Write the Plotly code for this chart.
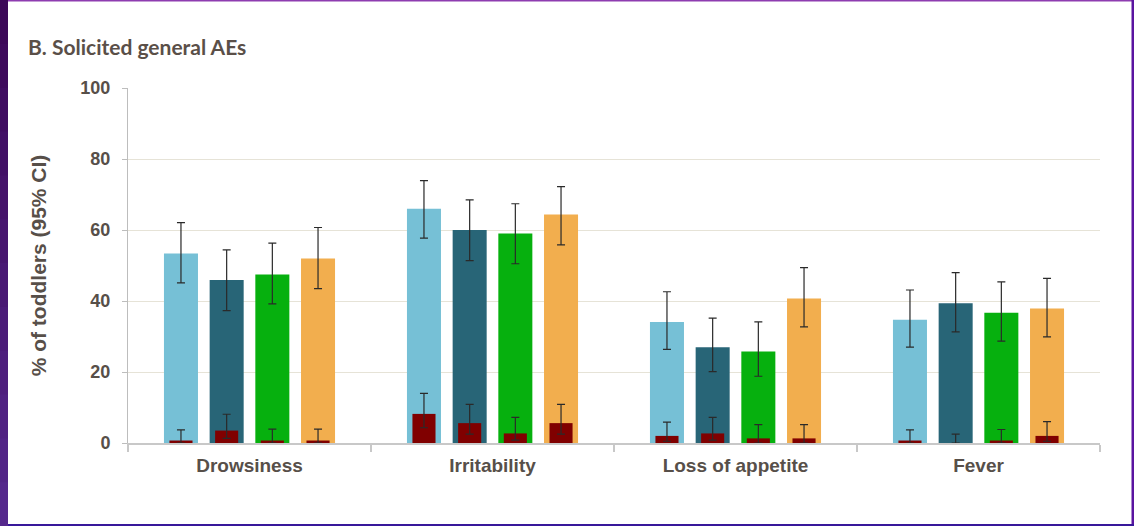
import plotly.graph_objects as go

categories = ["Drowsiness", "Irritability", "Loss of appetite", "Fever"]
series_names = ["Group 1", "Group 2", "Group 3", "Group 4"]

# Any grade (%), lower and upper 95% CI
any_vals = [
    [53.4, 66.0, 34.1, 34.7],
    [45.9, 60.0, 27.0, 39.4],
    [47.5, 59.0, 25.8, 36.7],
    [52.0, 64.4, 40.7, 37.9],
]
any_lo = [
    [45.1, 57.7, 26.4, 27.0],
    [37.3, 51.4, 20.1, 31.3],
    [39.2, 50.5, 18.8, 28.7],
    [43.5, 55.8, 32.7, 29.9],
]
any_hi = [
    [62.1, 73.9, 42.6, 43.1],
    [54.4, 68.5, 35.2, 48.0],
    [56.3, 67.4, 34.1, 45.4],
    [60.7, 72.2, 49.4, 46.4],
]

# Grade 3 (%), lower and upper 95% CI
g3_vals = [
    [0.7, 8.2, 2.0, 0.7],
    [3.5, 5.6, 2.7, 0.0],
    [0.7, 2.7, 1.3, 0.7],
    [0.7, 5.6, 1.3, 2.0],
]
g3_lo = [
    [0.0, 4.3, 0.5, 0.0],
    [1.3, 2.5, 0.8, 0.0],
    [0.0, 0.8, 0.0, 0.0],
    [0.0, 2.5, 0.0, 0.5],
]
g3_hi = [
    [3.7, 14.0, 5.9, 3.7],
    [8.1, 10.9, 7.2, 2.5],
    [3.9, 7.2, 5.2, 3.8],
    [3.9, 10.9, 5.2, 6.0],
]

colors = ["#76C0D6", "#286577", "#06B00E", "#F2AE4E"]
g3_color = "#800000"

W, H = 1134, 526
ML, MR, MT, MB = 128, 34, 88, 83
PW, PH = W - ML - MR, H - MT - MB

centers = [-0.282, -0.094, 0.094, 0.282]
main_w = 0.14
g3_w = 0.095

fig = go.Figure()
err_style = dict(type="data", symmetric=False, color="#2a2a2a", thickness=1.2, width=4)
for i in range(4):
    fig.add_trace(go.Bar(
        x=categories, y=any_vals[i], name=series_names[i],
        marker=dict(color=colors[i], line=dict(width=0)),
        width=main_w, offset=centers[i] - main_w / 2,
        error_y=dict(array=[h - v for h, v in zip(any_hi[i], any_vals[i])],
                     arrayminus=[v - l for v, l in zip(any_vals[i], any_lo[i])],
                     **err_style),
        showlegend=False,
    ))
for i in range(4):
    fig.add_trace(go.Bar(
        x=categories, y=g3_vals[i], name=series_names[i] + " grade 3",
        marker=dict(color=g3_color, line=dict(width=0)),
        width=g3_w, offset=centers[i] - g3_w / 2,
        error_y=dict(array=[h - v for h, v in zip(g3_hi[i], g3_vals[i])],
                     arrayminus=[v - l for v, l in zip(g3_vals[i], g3_lo[i])],
                     **err_style),
        showlegend=False,
    ))


def px_x(p):
    return (p - ML) / PW


def px_y(p):
    return (H - MB - p) / PH


shapes = []
# left purple strip as gradient bands (overlapping to avoid seams)
n = 12
for k in range(n):
    t = k / (n - 1)
    r = int(0x3c + (0x55 - 0x3c) * t)
    g = int(0x08 + (0x28 - 0x08) * t)
    b = int(0x58 + (0x8c - 0x58) * t)
    shapes.append(dict(type="rect", xref="paper", yref="paper",
                       x0=px_x(0), x1=px_x(8),
                       y0=px_y(H * (k + 1) / n + 2), y1=px_y(H * k / n),
                       fillcolor=f"rgb({r},{g},{b})", line=dict(width=0), layer="above"))
# top line
shapes.append(dict(type="rect", xref="paper", yref="paper",
                   x0=px_x(8), x1=px_x(W), y0=px_y(1.5), y1=px_y(0),
                   fillcolor="#8e3cb0", line=dict(width=0), layer="above"))
# right line
shapes.append(dict(type="rect", xref="paper", yref="paper",
                   x0=px_x(W - 2.5), x1=px_x(W), y0=px_y(H), y1=px_y(0),
                   fillcolor="#5a14a0", line=dict(width=0), layer="above"))
# bottom line
shapes.append(dict(type="rect", xref="paper", yref="paper",
                   x0=px_x(8), x1=px_x(W), y0=px_y(H), y1=px_y(H - 2),
                   fillcolor="#38189a", line=dict(width=0), layer="above"))

text_col = "#574f49"
fig.update_layout(
    width=W, height=H,
    margin=dict(l=ML, r=MR, t=MT, b=MB),
    paper_bgcolor="white", plot_bgcolor="white",
    barmode="overlay",
    shapes=shapes,
    annotations=[dict(text="<b>B. Solicited general AEs</b>", xref="paper", yref="paper",
                      x=px_x(26), y=px_y(47), xanchor="left", yanchor="middle",
                      showarrow=False, font=dict(family="Lato", size=21, color="#5a4f48"))],
    xaxis=dict(
        tickfont=dict(family="Liberation Sans", size=19, color=text_col),
        tickprefix="<b>", ticksuffix="</b>",
        showline=True, linecolor="#c8c8c8", linewidth=2,
        ticks="outside", tickson="boundaries", ticklen=7, tickcolor="#c8c8c8", tickwidth=2,
        ticklabelstandoff=4,
        showgrid=False, range=[-0.5, 3.5],
    ),
    yaxis=dict(
        range=[0, 100], dtick=20,
        tickfont=dict(family="Liberation Sans", size=18, color=text_col),
        tickprefix="<b>", ticksuffix="</b>",
        showline=True, linecolor="#bdbdbd", linewidth=1,
        ticks="outside", ticklen=5, tickcolor="#bdbdbd",
        ticklabelstandoff=8,
        showgrid=True, gridcolor="#e6e3d7", gridwidth=1, zeroline=False,
        title=dict(text="<b>% of toddlers (95% CI)</b>",
                   font=dict(family="Liberation Sans", size=21, color=text_col), standoff=28),
    ),
)

fig.write_html("out.html", config={"displayModeBar": False},
               post_script="document.body.style.margin='0';document.body.style.padding='0';")
